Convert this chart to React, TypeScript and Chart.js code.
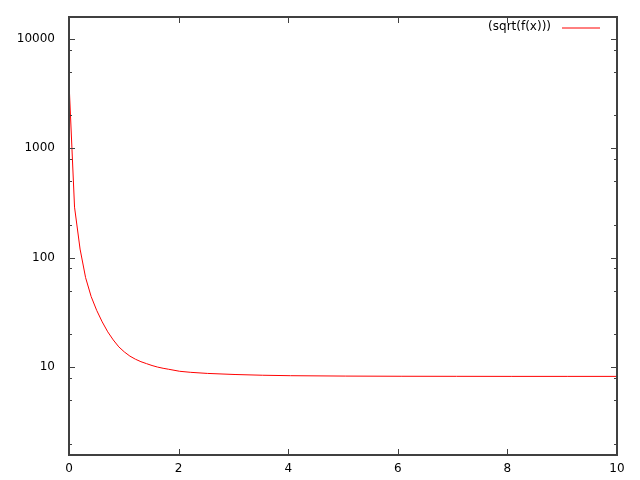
import React, { useEffect, useRef } from "react";
import { Chart, registerables } from "chart.js";

Chart.register(...registerables);

const XS = [0, 0.101, 0.202, 0.303, 0.404, 0.505, 0.606, 0.707, 0.808, 0.909, 1.01, 1.111, 1.212, 1.313, 1.414, 1.515, 1.616, 1.717, 1.818, 2.02, 2.222, 2.525, 3.03, 3.535, 4.04, 5.051, 6.061, 7.071, 8.081, 9.091, 10];
const YS = [4050, 290, 120, 65.7, 44.2, 33.0, 25.9, 21.0, 17.7, 15.3, 13.75, 12.6, 11.8, 11.2, 10.75, 10.33, 10.0, 9.75, 9.55, 9.15, 8.95, 8.75, 8.55, 8.42, 8.34, 8.27, 8.24, 8.23, 8.22, 8.22, 8.22];

const SERIES_LABEL = "(sqrt(f(x)))";
const X_TICKS = [0, 2, 4, 6, 8, 10];
const Y_MAJOR = [10, 100, 1000, 10000];
const Y_MINOR = [2, 5, 8, 20, 50, 80, 200, 500, 800, 2000, 5000, 8000];
const Y_MIN = 1.57;
const Y_MAX = 15900;

const AXIS_COLOR = "#404040";
const LINE_COLOR = "#ff0000";

const gnuFrame = {
  id: "gnuFrame",
  afterDatasetsDraw(chart: any) {
    const { ctx, chartArea: a, scales } = chart;
    const xs = scales.x;
    const ys = scales.y;
    ctx.save();
    ctx.strokeStyle = AXIS_COLOR;
    ctx.lineWidth = 1;
    const MAJ = 6;
    const MIN = 3;
    ctx.beginPath();
    for (const v of X_TICKS) {
      const px = Math.round(xs.getPixelForValue(v)) + 0.5;
      ctx.moveTo(px, a.bottom);
      ctx.lineTo(px, a.bottom - MAJ);
      ctx.moveTo(px, a.top);
      ctx.lineTo(px, a.top + MAJ);
    }
    for (const v of Y_MAJOR) {
      const py = Math.round(ys.getPixelForValue(v)) + 0.5;
      ctx.moveTo(a.left, py);
      ctx.lineTo(a.left + MAJ, py);
      ctx.moveTo(a.right, py);
      ctx.lineTo(a.right - MAJ, py);
    }
    for (const v of Y_MINOR) {
      const py = Math.round(ys.getPixelForValue(v)) + 0.5;
      ctx.moveTo(a.left, py);
      ctx.lineTo(a.left + MIN, py);
      ctx.moveTo(a.right, py);
      ctx.lineTo(a.right - MIN, py);
    }
    ctx.stroke();

    ctx.lineWidth = 2;
    ctx.strokeRect(a.left, a.top, a.right - a.left, a.bottom - a.top);
    ctx.restore();

    // legend (gnuplot style: text then line sample)
    ctx.save();
    const ly = Math.round(a.top + 10);
    ctx.fillStyle = "#000000";
    ctx.font = "12px 'DejaVu Sans'";
    ctx.textAlign = "right";
    ctx.textBaseline = "middle";
    ctx.fillText(chart.data.datasets[0].label, a.right - 66, ly);
    ctx.strokeStyle = LINE_COLOR;
    ctx.lineWidth = 1;
    ctx.beginPath();
    ctx.moveTo(a.right - 55, ly + 1);
    ctx.lineTo(a.right - 17, ly + 1);
    ctx.stroke();
    ctx.restore();
  },
};

export default function App() {
  const ref = useRef<HTMLCanvasElement>(null);

  useEffect(() => {
    if (!ref.current) return;
    Chart.defaults.font.family = "'DejaVu Sans'";
    Chart.defaults.font.size = 12;
    Chart.defaults.color = "#000";
    const chart = new Chart(ref.current, {
      type: "line",
      data: {
        datasets: [
          {
            label: SERIES_LABEL,
            data: XS.map((x, i) => ({ x, y: YS[i] })),
            borderColor: LINE_COLOR,
            borderWidth: 1,
            pointRadius: 0,
            tension: 0,
            fill: false,
          },
        ],
      },
      options: {
        animation: false,
        responsive: false,
        layout: { padding: { top: 17, right: 23, left: 0, bottom: 0 } },
        plugins: {
          legend: { display: false },
          tooltip: { enabled: false },
        },
        scales: {
          x: {
            type: "linear",
            min: 0,
            max: 10,
            grid: { display: false, drawTicks: false },
            border: { display: false },
            ticks: {
              padding: 7,
              maxRotation: 0,
              callback: (v: any) => String(v),
            },
            afterBuildTicks: (s: any) => {
              s.ticks = X_TICKS.map((v) => ({ value: v }));
            },
            afterFit: (s: any) => {
              s.height = 25;
              s.paddingLeft = 0;
              s.paddingRight = 0;
            },
          },
          y: {
            type: "logarithmic",
            min: Y_MIN,
            max: Y_MAX,
            grid: { display: false, drawTicks: false },
            border: { display: false },
            ticks: {
              padding: 14,
              callback: (v: any) => String(v),
            },
            afterBuildTicks: (s: any) => {
              s.ticks = Y_MAJOR.map((v) => ({ value: v, major: true }));
            },
            afterFit: (s: any) => {
              s.width = 69;
              s.paddingTop = 0;
              s.paddingBottom = 0;
            },
          },
        },
      },
      plugins: [gnuFrame],
    });
    return () => chart.destroy();
  }, []);

  return (
    <div style={{ position: "absolute", left: 0, top: 0, width: 640, height: 480, background: "#fff" }}>
      <canvas ref={ref} width={640} height={480} style={{ display: "block" }} />
    </div>
  );
}
